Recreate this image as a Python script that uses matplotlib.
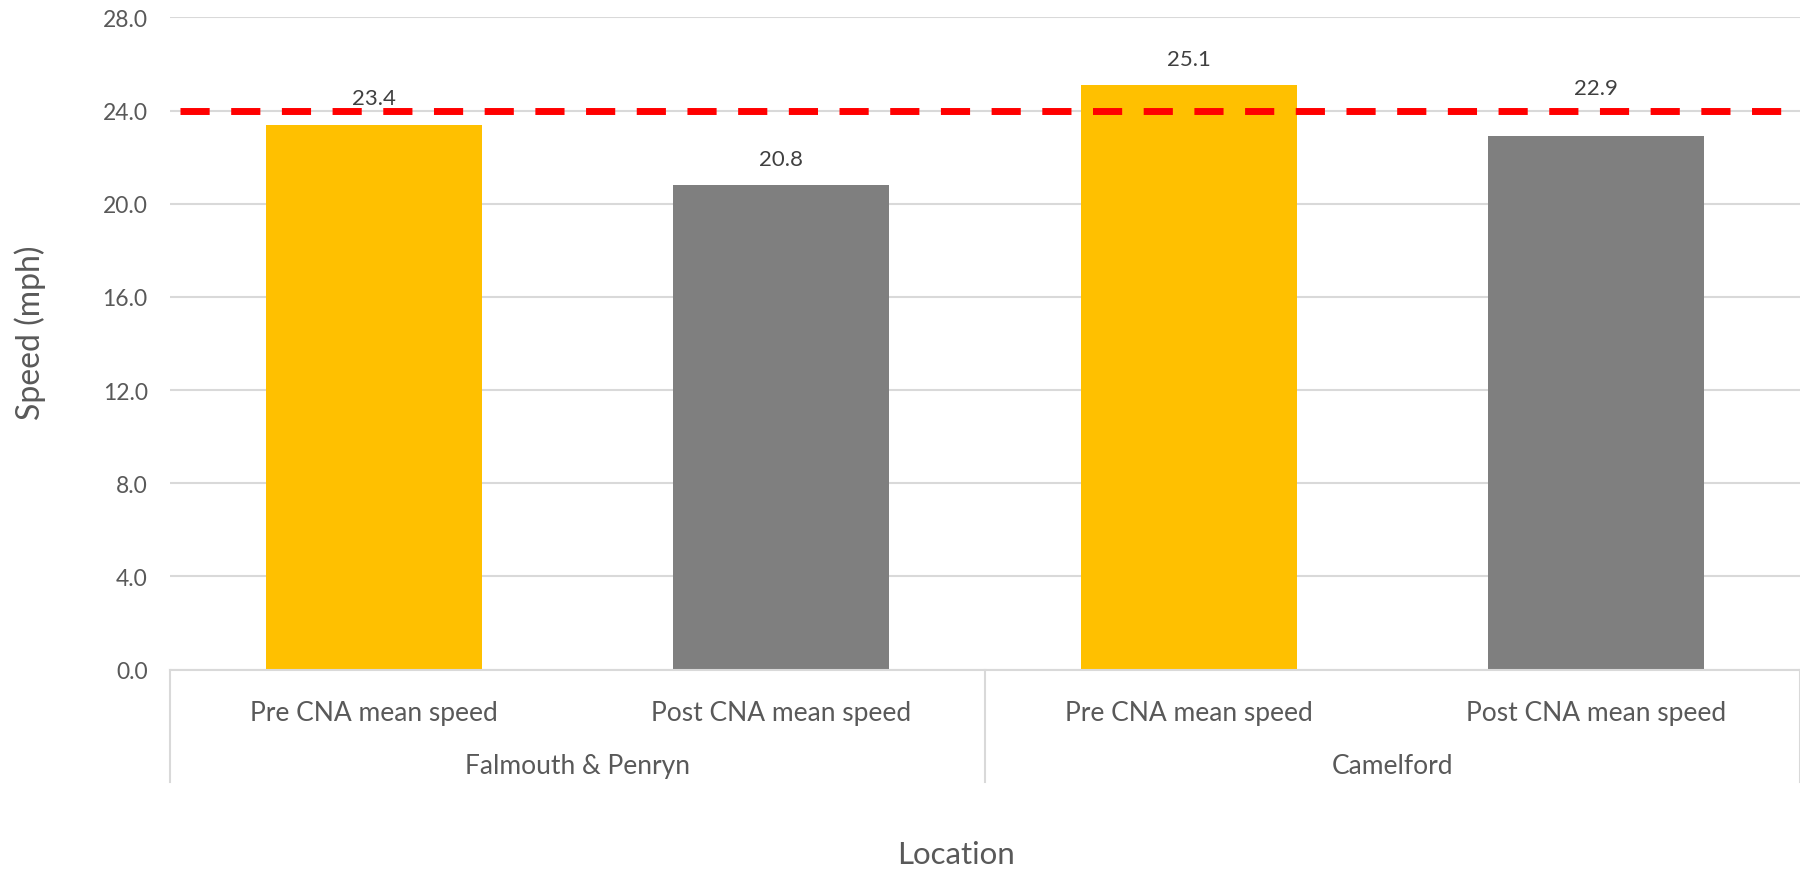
import matplotlib.pyplot as plt
import matplotlib.transforms as mtransforms

plt.rcParams['font.family'] = ['Lato', 'DejaVu Sans']

groups = ["Falmouth & Penryn", "Camelford"]
periods = ["Pre CNA mean speed", "Post CNA mean speed"]
speeds = [23.4, 20.8, 25.1, 22.9]
speed_limit = 24.0
yticks = [0, 4, 8, 12, 16, 20, 24, 28]

bar_colors = ["#FFC000", "#7F7F7F", "#FFC000", "#7F7F7F"]
label_lift = [19, 19, 19, 35]  # points above bar top; last one clears the dashed line
grid_c = "#D9D9D9"
text_c = "#595959"

fig = plt.figure(figsize=(18, 8.7), dpi=100)
ax = fig.add_axes([0.0944, 0.2291, 0.9056, 0.7498])

labels = periods * len(groups)
x = list(range(len(speeds)))
bars = ax.bar(x, speeds, width=0.53, color=bar_colors, zorder=2)

for xi, v, lift in zip(x, speeds, label_lift):
    ax.annotate(f"{v:.1f}", (xi, v), xytext=(0, lift), textcoords="offset points",
                ha="center", va="center", fontsize=16, color="#404040")

# threshold line
ax.axhline(speed_limit, xmin=0.006, xmax=0.99, color="#FF0000", lw=5,
           dashes=(4.2, 3.1), zorder=3)

ax.set_xlim(-0.5, len(speeds) - 0.5)
ax.set_ylim(0, 28)
ax.set_yticks(yticks)
ax.set_yticklabels([f"{t:.1f}" for t in yticks])
ax.yaxis.grid(True, color=grid_c, lw=1.5, zorder=0)
ax.set_axisbelow(True)
for s in ["top", "right", "left"]:
    ax.spines[s].set_visible(False)
ax.spines["bottom"].set_color(grid_c)
ax.spines["bottom"].set_linewidth(1.5)
ax.tick_params(axis="y", length=0, pad=16, labelsize=16.5, labelcolor=text_c)
ax.tick_params(axis="x", length=0, pad=22, labelsize=19, labelcolor=text_c)
ax.set_xticks(x)
ax.set_xticklabels(labels)

# two-level category axis: group dividers and names
trans = mtransforms.blended_transform_factory(ax.transData, ax.transAxes)
n = len(periods)
for b in range(len(groups) + 1):
    ax.plot([b * n - 0.5] * 2, [0, -0.172], transform=trans, color=grid_c,
            lw=1.5, clip_on=False)
for g, name in enumerate(groups):
    ax.text(g * n + (n - 1) / 2, -0.147, name, transform=trans, ha="center",
            va="center", fontsize=19, color=text_c)

fig.text(0.531, 0.017, "Location", ha="center", va="center", fontsize=22.5,
         color=text_c)
fig.text(0.017, 0.617, "Speed (mph)", ha="center", va="center", fontsize=23,
         color=text_c, rotation=90)

fig.savefig("out.png", dpi=100)
